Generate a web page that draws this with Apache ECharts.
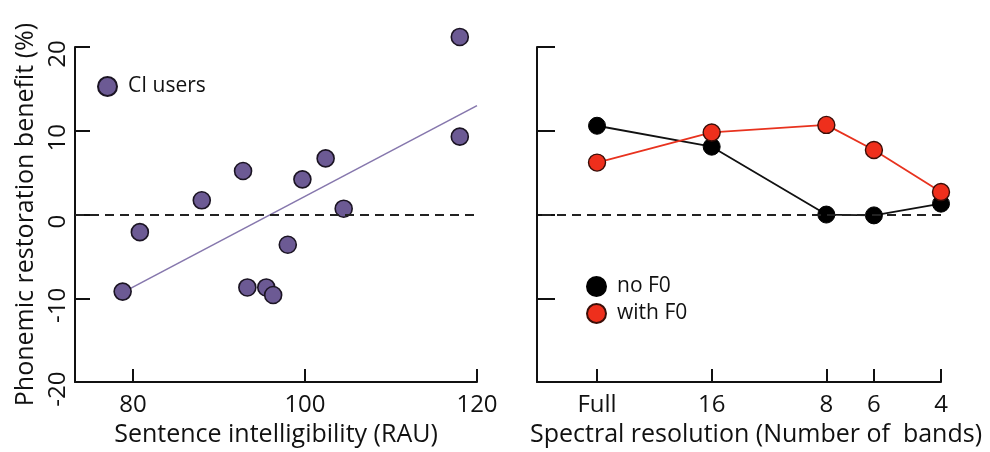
<!DOCTYPE html>
<html>
<head>
<meta charset="utf-8">
<script src="https://cdn.jsdelivr.net/npm/echarts@6/dist/echarts.min.js"></script>
<style>
  html, body { margin: 0; padding: 0; background: #fff; }
  #main { width: 990px; height: 452px; }
</style>
</head>
<body>
<div id="main"></div>
<script>
// left panel: CI users
var ciX = [118.0, 118.0, 92.8, 88.0, 99.7, 102.4, 104.5, 80.8, 98.0, 78.8, 93.3, 95.5, 96.3];
var ciY = [21.2, 9.3, 5.2, 1.7, 4.2, 6.7, 0.7, -2.1, -3.6, -9.2, -8.7, -8.7, -9.6];
var fitX = [79, 120];
var fitY = [-9.2, 13.0];

// right panel: spectral resolution (Full plotted as 32 bands on the log scale)
var bands = [32, 16, 8, 6, 4];
var bandLabels = { 32: 'Full', 16: '16', 8: '8', 6: '6', 4: '4' };
var noF0 = [10.6, 8.1, 0.0, -0.1, 1.3];
var withF0 = [6.2, 9.8, 10.7, 7.7, 2.7];

var font = '"Open Sans", sans-serif';
var ink = '#111';

function pairs(xs, ys) {
  return xs.map(function (x, i) { return [x, ys[i]]; });
}

var myChart = echarts.init(document.getElementById('main'));

var yAxisBase = {
  type: 'value',
  min: -20, max: 20, interval: 10,
  splitLine: { show: false },
  axisLine: { show: true, lineStyle: { color: ink, width: 2 } },
  axisTick: { show: true, inside: true, length: 15, lineStyle: { color: ink, width: 2 } }
};

var zeroLine = {
  silent: true, symbol: 'none', label: { show: false },
  lineStyle: { color: '#222', type: [9, 6], width: 2 },
  data: [{ yAxis: 0 }]
};

var option = {
  animation: false,
  textStyle: { fontFamily: font },
  grid: [
    { left: 75, top: 47, width: 402, height: 336 },
    { left: 537, top: 47, width: 404, height: 336 }
  ],
  legend: [
    {
      data: ['CI users'], left: 92, top: 71,
      icon: 'circle', itemWidth: 19, itemHeight: 19, itemGap: 8,
      textStyle: { fontSize: 21, color: ink, fontFamily: font, padding: [0, 0, 0, 6] }
    },
    {
      data: ['no F0', 'with F0'], orient: 'vertical', left: 581, top: 271,
      icon: 'circle', itemWidth: 19, itemHeight: 19, itemGap: 6,
      textStyle: { fontSize: 21, color: ink, fontFamily: font, padding: [0, 0, 0, 6] }
    }
  ],
  xAxis: [
    {
      gridIndex: 0, type: 'value', min: 73.26, max: 120,
      splitLine: { show: false },
      axisLine: { onZero: false, lineStyle: { color: ink, width: 2 } },
      axisTick: { inside: true, length: 13, customValues: [80, 100, 120], lineStyle: { color: ink, width: 2 } },
      axisLabel: { customValues: [80, 100, 120], fontSize: 24, color: ink, margin: 11 },
      name: 'Sentence intelligibility (RAU)', nameLocation: 'middle', nameGap: 39,
      nameTextStyle: { fontSize: 25, color: ink }
    },
    {
      gridIndex: 1, type: 'log', logBase: 2, min: 4, max: 46, inverse: true,
      splitLine: { show: false },
      axisLine: { onZero: false, lineStyle: { color: ink, width: 2 } },
      axisTick: { inside: true, length: 13, customValues: bands, lineStyle: { color: ink, width: 2 } },
      axisLabel: {
        customValues: bands, fontSize: 24, color: ink, margin: 11,
        formatter: function (v) { return bandLabels[Math.round(v)] || ''; }
      },
      name: 'Spectral resolution (Number of  bands)', nameLocation: 'middle', nameGap: 39,
      nameTextStyle: { fontSize: 25, color: ink, padding: [0, 0, 0, 34] }
    }
  ],
  yAxis: [
    Object.assign({}, yAxisBase, {
      gridIndex: 0,
      axisLabel: { rotate: 90, fontSize: 24, color: ink, margin: 5, padding: [0, 14, 0, 0] },
      name: 'Phonemic restoration benefit (%)', nameLocation: 'middle', nameGap: 37,
      nameTextStyle: { fontSize: 25, color: ink }
    }),
    Object.assign({}, yAxisBase, {
      gridIndex: 1,
      axisTick: { show: true, inside: true, length: 18, lineStyle: { color: ink, width: 2 } },
      axisLabel: { show: false }
    })
  ],
  series: [
    {
      name: 'fit', type: 'line', xAxisIndex: 0, yAxisIndex: 0,
      data: pairs(fitX, fitY), symbol: 'none',
      lineStyle: { color: '#8677ad', width: 1.6 },
      markLine: zeroLine,
      z: 1
    },
    {
      name: 'CI users', type: 'scatter', xAxisIndex: 0, yAxisIndex: 0,
      data: pairs(ciX, ciY), symbolSize: 17, clip: false,
      itemStyle: { color: '#6c5a94', borderColor: '#1b1423', borderWidth: 1.6, opacity: 1 },
      z: 3
    },
    {
      name: 'no F0', type: 'line', xAxisIndex: 1, yAxisIndex: 1,
      data: pairs(bands, noF0), symbol: 'circle', symbolSize: 17, clip: false,
      lineStyle: { color: '#111', width: 1.8 },
      itemStyle: { color: '#000', borderColor: '#000', borderWidth: 1 },
      markLine: zeroLine,
      z: 3
    },
    {
      name: 'with F0', type: 'line', xAxisIndex: 1, yAxisIndex: 1,
      data: pairs(bands, withF0), symbol: 'circle', symbolSize: 17, clip: false,
      lineStyle: { color: '#e8321e', width: 1.8 },
      itemStyle: { color: '#ee2f1c', borderColor: '#3a0e08', borderWidth: 1.4 },
      z: 4
    }
  ]
};

myChart.setOption(option);
</script>
</body>
</html>
